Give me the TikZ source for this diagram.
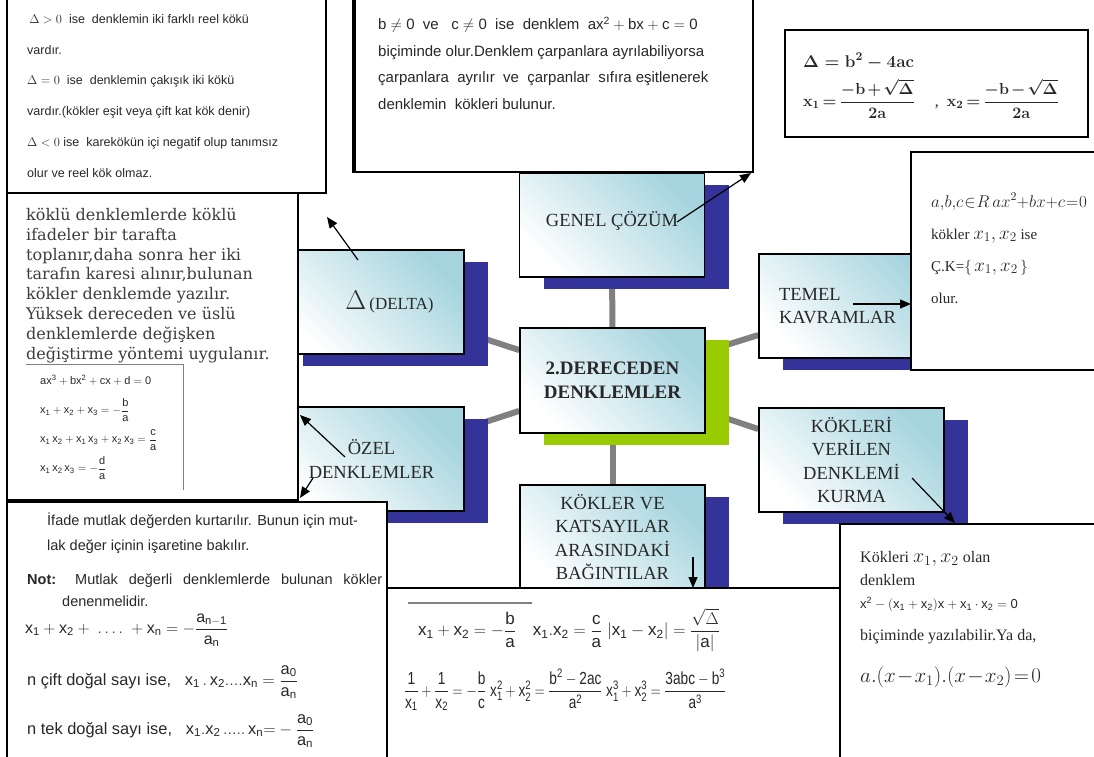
\RequirePackage{fix-cm}
\documentclass[tikz,border=0pt]{standalone}
\usepackage{amsmath,amssymb}
\usepackage{fontspec}
\setmainfont{Liberation Serif}
\setsansfont{Liberation Sans}
\newfontfamily\slabfont{DejaVu Serif}
\usetikzlibrary{arrows.meta,backgrounds,shadows}
\definecolor{ddnavy}{RGB}{51,51,153}
\definecolor{ddgreen}{RGB}{153,204,0}
\definecolor{ddteal}{RGB}{165,212,222}
\definecolor{ddgray}{RGB}{128,128,128}
\definecolor{ddink}{RGB}{40,40,40}
\tikzset{
  every picture/.append style={line join=miter},
  dd concept/.style={draw=black,line width=1.6pt,minimum width=185pt,minimum height=104pt,
    inner sep=0pt,align=center,text=ddink,top color=ddteal,bottom color=white,shading angle=-45,
    font=\fontsize{18.5}{23.5}\selectfont},
  dd shadow/.style={drop shadow={shadow xshift=24pt,shadow yshift=-12pt,fill=#1,opacity=1}},
  dd info/.style={draw=black,line width=1.8pt,fill=white},
  dd link/.style={draw=ddgray,line width=6pt},
  dd arrow/.style={black,line width=1.2pt,-{Triangle[length=11pt,width=9pt]}},
  dd sans/.style={font=\sffamily\fontsize{12.5}{30.8}\selectfont,text=ddink,align=left,inner sep=0pt},
  dd serif/.style={font=\fontsize{15}{31}\selectfont,text=ddink,align=left,inner sep=0pt},
  dd slab/.style={font=\slabfont\fontsize{16}{19.8}\selectfont,text=ddink!90,align=left,inner sep=0pt},
  dd deco/.style={draw=gray,line width=1pt}
}
\begin{document}
\begin{tikzpicture}[x=1pt,y=-1pt]
  \useasboundingbox (0,0) rectangle (1094,756);
  \clip (0,0) rectangle (1094,756);

  % concept boxes
  \node[dd concept,dd shadow=ddgreen,minimum height=105pt,font=\bfseries\fontsize{19}{24}\selectfont]
    (center) at (612.5,380.5) {2.DERECEDEN\\DENKLEMLER};
  \node[dd concept,dd shadow=ddnavy] (genel) at (612,225) {\raisebox{12pt}{GENEL ÇÖZÜM}};
  \node[dd concept,dd shadow=ddnavy] (delta) at (371.5,302)
    {\hspace*{36pt}{\fontsize{27}{27}\selectfont$\Delta$}\,{\fontsize{17}{20}\selectfont(DELTA)}};
  \node[dd concept,dd shadow=ddnavy] (ozel) at (371.5,459) {ÖZEL\\DENKLEMLER};
  \node[dd concept,dd shadow=ddnavy,text width=145pt,align=left] (temel) at (851.5,306)
    {TEMEL\\KAVRAMLAR};
  \node[dd concept,dd shadow=ddnavy] (kurma) at (851.5,460) {KÖKLERİ\\VERİLEN\\DENKLEMİ\\KURMA};
  \node[dd concept,dd shadow=ddnavy] (bagint) at (612.5,537)
    {KÖKLER VE\\KATSAYILAR\\ARASINDAKİ\\BAĞINTILAR};

  % delta
  \draw[dd info] (7,-5) rectangle (326,193);
  \node[dd sans,anchor=north west] (deltatxt) at (27,14)
    {\,$\Delta>0$\ \ ise\ \ denklemin iki farklı reel kökü\\
     vardır.\\
     $\Delta=0$\ \ ise\ \ denklemin çakışık iki kökü\\
     vardır.(kökler eşit veya çift kat kök denir)\\
     $\Delta<0$\ ise\ \ karekökün içi negatif olup tanımsız\\
     olur ve reel kök olmaz.};

  % genel cozum
  \draw[dd info] (353,-5) rectangle (753,172);
  \draw[black,line width=3.5pt] (354,-5) -- (354,172);
  \node[dd sans,font=\sffamily\fontsize{15}{26.5}\selectfont,anchor=north west] (geneltxt) at (378,17)
    {$\mathsf{b}\neq\mathsf{0}$\ \ ve\ \ \ $\mathsf{c}\neq\mathsf{0}$\ \ ise\ \ denklem\ \ $\mathsf{ax^2+bx+c=0}$\\
     biçiminde olur.Denklem çarpanlara ayrılabiliyorsa\\
     çarpanlara\ \ ayrılır\ \ ve\ \ çarpanlar\ \ sıfıra eşitlenerek\\
     denklemin\ \ kökleri bulunur.};
  \draw[dd info] (785,30) rectangle (1088,137);
  \node[dd serif,font=\boldmath\fontsize{17}{39}\selectfont,anchor=north west] (formul) at (803,53)
    {$\Delta=\mathbf{b}^2-4\mathbf{ac}$\\
     {\fontsize{16}{16}\selectfont\medmuskip=2mu\thickmuskip=3mu%
     $\mathbf{x}_1=\dfrac{-\mathbf{b}+\sqrt{\Delta}}{2\mathbf{a}}$\quad\ ,\ \
     $\mathbf{x}_2=\dfrac{-\mathbf{b}-\sqrt{\Delta}}{2\mathbf{a}}$}};

  % temel kavramlar
  \draw[dd info] (911,152) rectangle (1100,370);
  \node[dd serif,anchor=north west,font=\fontsize{15}{32}\selectfont] (temeltxt) at (931,193)
    {{\fontsize{17}{17}\selectfont\medmuskip=0mu\thickmuskip=1mu$a,\!b,\!c\in R\,ax^2+bx+c=0$}\\
     kökler {\fontsize{19}{19}\selectfont$x_1,x_2$} ise\\
     Ç.K=$\{\,${\fontsize{19}{19}\selectfont$x_1,x_2$}$\,\}$\\
     olur.};

  % ozel denklemler
  \draw[dd info] (7,193) rectangle (298,500);
  \node[dd slab,anchor=north west] (koklu) at (26,208)
    {köklü denklemlerde köklü\\ ifadeler bir tarafta\\ toplanır,daha sonra her iki\\
     tarafın karesi alınır,bulunan\\ kökler denklemde yazılır.\\ Yüksek dereceden ve üslü\\
     denklemlerde değişken\\ değiştirme yöntemi uygulanır.};
  \draw[dd deco] (26,364) -- (183,364) -- (183,490);
  \node[dd sans,font=\sffamily\fontsize{11}{29}\selectfont,anchor=north west] (kubik) at (40,375)
    {$\mathsf{ax^3+bx^2+cx+d=0}$\\
     $\mathsf{x_1+x_2+x_3=-\dfrac{b}{a}}$\\
     $\mathsf{x_1\,x_2+x_1\,x_3+x_2\,x_3=\dfrac{c}{a}}$\\
     $\mathsf{x_1\,x_2\,x_3=-\dfrac{d}{a}}$};
  \draw[dd info] (7,502) rectangle (387,760);
  \node[dd sans,font=\sffamily\fontsize{14.5}{24.5}\selectfont,anchor=north west] (mutlak) at (47,513)
    {İfade mutlak değerden kurtarılır. Bunun için mut-\\ lak değer içinin işaretine bakılır.};
  \node[dd sans,font=\sffamily\fontsize{14.5}{22}\selectfont,anchor=north west] (mutnot) at (27,574)
    {\makebox[355pt][s]{\textbf{Not:} Mutlak değerli denklemlerde bulunan kökler}\\
     \hspace*{35pt}denenmelidir.};
  \node[dd sans,font=\sffamily\fontsize{16}{18}\selectfont,anchor=west] (toplam) at (25,630)
    {$\mathsf{x_1+x_2+\ \ldots.\ +x_n=-\dfrac{a_{n-1}}{a_n}}$};
  \node[dd sans,font=\sffamily\fontsize{16.4}{18}\selectfont,anchor=west] (cift) at (27,682)
    {n çift doğal sayı ise,\ \ \ $\mathsf{x_1\,.\,x_2....x_n=\dfrac{a_0}{a_n}}$};
  \node[dd sans,font=\sffamily\fontsize{16.4}{18}\selectfont,anchor=west] (tek) at (27,731)
    {n tek doğal sayı ise,\ \ \ $\mathsf{x_1.x_2\,.....\,x_n{=}-\dfrac{a_0}{a_n}}$};

  % bagintilar
  \draw[dd info] (387,588) rectangle (840,760);
  \draw[dd deco,line width=2pt] (408,603) -- (532,603);
  \node[dd sans,font=\sffamily\fontsize{17}{20}\selectfont,anchor=west] (bagsatir) at (418,630)
    {$\mathsf{x_1+x_2=-\dfrac{b}{a}}$\quad $\mathsf{x_1.x_2=\dfrac{c}{a}}$\
     $\left|\mathsf{x_1-x_2}\right|=\dfrac{\sqrt{\Delta}}{\mathsf{|a|}}$};
  \node[dd sans,font=\sffamily\fontsize{17.5}{20}\selectfont,anchor=west] (bagkare) at (404,690)
    {\scalebox{0.78}[1]{$\mathsf{\dfrac{1}{x_1}+\dfrac{1}{x_2}=-\dfrac{b}{c}}$\
     $\mathsf{x_1^2+x_2^2=\dfrac{b^2-2ac}{a^2}}$\
     $\mathsf{x_1^3+x_2^3=\dfrac{3abc-b^3}{a^3}}$}};

  % denklem kurma
  \draw[dd info] (840,524) rectangle (1100,760);
  \node[dd serif,font=\fontsize{16}{23}\selectfont,anchor=north west] (kurmatxt) at (860,551)
    {Kökleri {\fontsize{20}{20}\selectfont$x_1,x_2$} olan\\
     denklem\\
     {\sffamily\fontsize{13}{13}\selectfont$\mathsf{x^2-(x_1+x_2)x+x_1\cdot x_2=0}$}\\[9pt]
     biçiminde yazılabilir.Ya da,\\[19pt]
     {\fontsize{21}{21}\selectfont\medmuskip=1mu\thickmuskip=2mu$a.(x-x_1).(x-x_2)=0$}};

  % arrows
  \coordinate (deltatail) at (358,260);
  \coordinate (deltatip) at (327,217);
  \coordinate (geneltail) at (677,222);
  \coordinate (geneltip) at (751,173);
  \coordinate (temeltail) at (853,304);
  \coordinate (temeltip) at (911,304);
  \coordinate (ozeltail) at (345,457);
  \coordinate (ozeltip) at (300,415);
  \coordinate (ozelalt) at (313,478);
  \coordinate (ozelucu) at (300,498);
  \coordinate (bagtail) at (693,557);
  \coordinate (bagtip) at (693,588);
  \coordinate (kurmatail) at (912,478);
  \coordinate (kurmatip) at (955,523);
  \draw[dd arrow] (deltatail) -- (deltatip);
  \draw[dd arrow] (geneltail) -- (geneltip);
  \draw[dd arrow] (temeltail) -- (temeltip);
  \draw[dd arrow] (ozeltail) -- (ozeltip);
  \draw[dd arrow] (ozelalt) -- (ozelucu);
  \draw[dd arrow] (bagtail) -- (bagtip);
  \draw[dd arrow] (kurmatail) -- (kurmatip);

  \begin{scope}[on background layer]
    \fill[white] (0,0) rectangle (1094,756);
    \foreach \n in {genel,delta,ozel,temel,kurma,bagint}
      \draw[dd link] (center) -- (\n);
  \end{scope}
\end{tikzpicture}
\end{document}
